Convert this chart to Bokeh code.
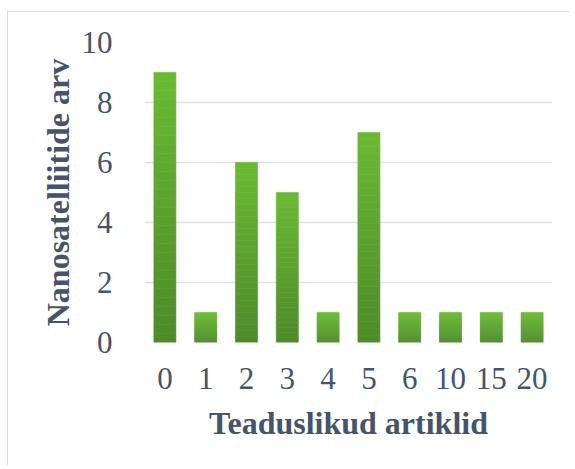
from bokeh.plotting import figure
from bokeh.models import FactorRange, Range1d, ColumnDataSource, FixedTicker
from bokeh.embed import file_html
from bokeh.resources import INLINE

# ---- data ----
articles = ["0", "1", "2", "3", "4", "5", "6", "10", "15", "20"]
counts = [9, 1, 6, 5, 1, 7, 1, 1, 1, 1]
y_ticks = [0, 2, 4, 6, 8, 10]
x_title = "Teaduslikud artiklid"
y_title = "Nanosatelliitide arv"

TEXT = "#44546a"
FONT = "Liberation Serif"
TOP_C = (0x6a, 0xba, 0x34)
BOT_C = (0x4e, 0x8a, 0x29)

p = figure(
    x_range=FactorRange(*articles, range_padding=0),
    y_range=Range1d(0, 10),
    width=562, height=454,
    output_backend="svg", toolbar_location=None,
    min_border_left=136, min_border_right=18,
    min_border_top=30, min_border_bottom=124,
)
p.styles = {"border-top": "1.5px solid #dadada", "border-left": "1.5px solid #dadada",
            "margin-top": "11px", "margin-left": "7px"}
p.outline_line_color = None
p.background_fill_color = "white"
p.border_fill_color = "white"

# gradient bars built as stacked slices of each data bar
N = 30
xs, bots, tops, cols = [], [], [], []
for a, v in zip(articles, counts):
    for k in range(N):
        t = (k + 0.5) / N
        c = tuple(int(round(BOT_C[j] + (TOP_C[j] - BOT_C[j]) * t)) for j in range(3))
        xs.append(a)
        bots.append(v * k / N)
        tops.append(v * (k + 1) / N)
        cols.append("#%02x%02x%02x" % c)
src = ColumnDataSource(dict(x=xs, bottom=bots, top=tops, color=cols))
p.vbar(x="x", bottom="bottom", top="top", width=0.54, source=src,
       fill_color="color", line_color="color", line_width=0.6)

# grid
p.xgrid.grid_line_color = None
p.ygrid.grid_line_color = "#dde1e6"
p.ygrid.grid_line_width = 1.6
p.yaxis.ticker = FixedTicker(ticks=y_ticks)

for ax in (p.xaxis, p.yaxis):
    ax.axis_line_color = None
    ax.major_tick_line_color = None
    ax.minor_tick_line_color = None
    ax.major_label_text_font = FONT
    ax.major_label_text_font_size = "31px"
    ax.major_label_text_color = TEXT
    ax.axis_label_text_font = FONT
    ax.axis_label_text_font_style = "bold"
    ax.axis_label_text_font_size = "32px"
    ax.axis_label_text_color = TEXT

p.xaxis.axis_label = x_title
p.yaxis.axis_label = y_title
p.xaxis.major_label_standoff = 19
p.yaxis.major_label_standoff = 26
p.xaxis.axis_label_standoff = 13
p.yaxis.axis_label_standoff = 3

open("out.html", "w").write(file_html(p, INLINE))
